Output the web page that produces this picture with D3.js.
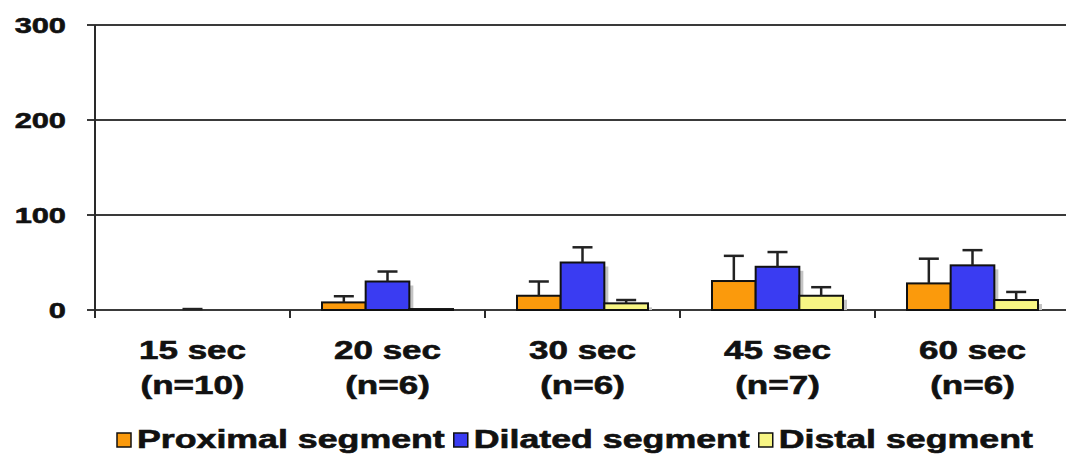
<!DOCTYPE html>
<html>
<head>
<meta charset="utf-8">
<script src="https://cdn.jsdelivr.net/npm/d3@7"></script>
<style>
  html, body { margin: 0; padding: 0; background: #fff; }
  svg { display: block; }
  text { font-family: "Liberation Sans", Arial, sans-serif; font-weight: bold; fill: #111; stroke: #111; stroke-width: 0.6px; }
</style>
</head>
<body>
<svg id="chart" width="1066" height="456"></svg>
<script>
// Time points and sample sizes
const categories = ["15 sec", "20 sec", "30 sec", "45 sec", "60 sec"];
const sampleSizes = ["(n=10)", "(n=6)", "(n=6)", "(n=7)", "(n=6)"];

// Series names
const seriesNames = ["Proximal segment", "Dilated segment", "Distal segment"];

// Means and upper error (SD) per series
const proximal    = [0, 8, 15, 30.5, 28];
const proximalErr = [0, 6.5, 15, 26.5, 26];
const dilated     = [0, 30, 50, 45.5, 47];
const dilatedErr  = [1, 10.5, 16, 15.5, 16];
const distal      = [0, 1, 7, 15, 10.5];
const distalErr   = [0, 0, 3.5, 9, 8.5];

const yTicks = [0, 100, 200, 300];

const colors = ["#FB9A0C", "#3A3CF2", "#F7F584"];
const stretch = 1.4;   // wide lettering

const svg = d3.select("#chart");
const plotLeft = 95, plotRight = 1070, plotTop = 25, plotBottom = 310;

const x0 = d3.scaleBand().domain(categories).range([plotLeft, plotRight]).padding(0);
const x1 = d3.scaleBand().domain(seriesNames).range([32, x0.bandwidth() - 32]).padding(0);
const y = d3.scaleLinear().domain([0, 300]).range([plotBottom, plotTop]);

const rows = categories.map((c, i) => ({
  cat: c,
  vals: [
    { s: seriesNames[0], v: proximal[i], e: proximalErr[i], c: colors[0] },
    { s: seriesNames[1], v: dilated[i],  e: dilatedErr[i],  c: colors[1] },
    { s: seriesNames[2], v: distal[i],   e: distalErr[i],   c: colors[2] }
  ]
}));

// Gridlines
svg.append("g").selectAll("line").data(yTicks).join("line")
  .attr("x1", plotLeft - 8).attr("x2", 1066)
  .attr("y1", d => y(d)).attr("y2", d => y(d))
  .attr("stroke", "#3a3a3a").attr("stroke-width", 2);

// Y tick labels
svg.append("g").selectAll("text").data(yTicks).join("text")
  .attr("transform", d => `translate(66,${y(d) + 8}) scale(${stretch},1)`)
  .attr("text-anchor", "end")
  .attr("font-size", 22)
  .text(d => d);

// Y axis line
svg.append("line")
  .attr("x1", plotLeft).attr("x2", plotLeft)
  .attr("y1", plotTop).attr("y2", plotBottom + 8)
  .attr("stroke", "#2a2a2a").attr("stroke-width", 2);

// Category ticks
const tickXs = categories.map(c => x0(c)).concat([x0(categories[categories.length - 1]) + x0.bandwidth()]);
svg.append("g").selectAll("line").data(tickXs).join("line")
  .attr("x1", d => d).attr("x2", d => d)
  .attr("y1", plotBottom).attr("y2", plotBottom + 8)
  .attr("stroke", "#2a2a2a").attr("stroke-width", 2);

// Bars
const groups = svg.append("g").selectAll("g").data(rows).join("g")
  .attr("transform", d => `translate(${x0(d.cat)},0)`);

const bars = groups.selectAll("g").data(d => d.vals).join("g");

// Drop shadow
bars.filter(d => d.v > 0).append("rect")
  .attr("x", d => x1(d.s) + 4)
  .attr("y", d => y(d.v) + 4)
  .attr("width", x1.bandwidth())
  .attr("height", d => Math.max(0, plotBottom - y(d.v) - 4))
  .attr("fill", "#c4c4c4");

bars.filter(d => d.v > 0).append("rect")
  .attr("x", d => x1(d.s))
  .attr("y", d => y(d.v))
  .attr("width", x1.bandwidth())
  .attr("height", d => plotBottom - y(d.v))
  .attr("fill", d => d.c)
  .attr("stroke", "#111").attr("stroke-width", 2);

// Error bars
const eb = bars.filter(d => d.e > 0);
eb.append("line")
  .attr("x1", d => x1(d.s) + x1.bandwidth() / 2)
  .attr("x2", d => x1(d.s) + x1.bandwidth() / 2)
  .attr("y1", d => y(d.v)).attr("y2", d => y(d.v + d.e))
  .attr("stroke", "#222").attr("stroke-width", 2.5);
eb.append("line")
  .attr("x1", d => x1(d.s) + x1.bandwidth() / 2 - 10)
  .attr("x2", d => x1(d.s) + x1.bandwidth() / 2 + 10)
  .attr("y1", d => y(d.v + d.e)).attr("y2", d => y(d.v + d.e))
  .attr("stroke", "#222").attr("stroke-width", 2.5);

// Category labels
const lab = svg.append("g").selectAll("g").data(categories).join("g")
  .attr("transform", c => `translate(${x0(c) + x0.bandwidth() / 2},0)`);
lab.append("text")
  .attr("transform", `translate(0,359) scale(${stretch},1)`)
  .attr("text-anchor", "middle").attr("font-size", 25)
  .text(c => c);
lab.append("text")
  .attr("transform", `translate(0,394) scale(${stretch},1)`)
  .attr("text-anchor", "middle").attr("font-size", 25)
  .text((c, i) => sampleSizes[i]);

// Legend
const legend = svg.append("g").attr("transform", "translate(117,448)");
let lx = 0;
seriesNames.forEach((name, i) => {
  legend.append("rect")
    .attr("x", lx).attr("y", -15).attr("width", 14).attr("height", 14)
    .attr("fill", colors[i]).attr("stroke", "#111").attr("stroke-width", 1.5);
  const t = legend.append("text")
    .attr("transform", `translate(${lx + 20},0) scale(1.43,1)`)
    .attr("font-size", 25)
    .text(name);
  const w = t.node().getComputedTextLength() * 1.43;
  lx += 20 + w + 9;
});
</script>
</body>
</html>
